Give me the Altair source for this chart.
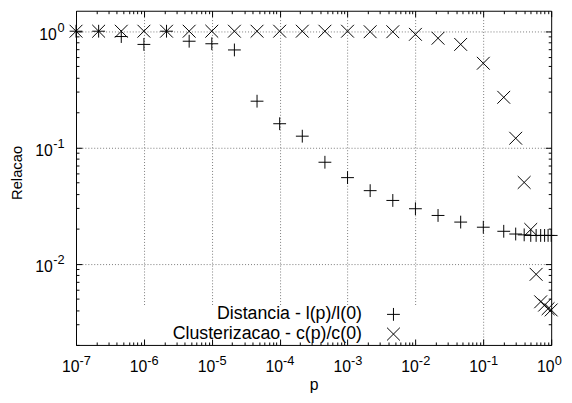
import altair as alt
import pandas as pd

# ---------------- data ----------------
P = [1e-7, 2.154e-7, 4.642e-7, 1e-6, 2.154e-6, 4.642e-6, 1e-5, 2.154e-5, 4.642e-5,
     1e-4, 2.154e-4, 4.642e-4, 1e-3, 2.154e-3, 4.642e-3, 1e-2, 2.154e-2, 4.642e-2,
     1e-1, 0.2, 0.3, 0.4, 0.5, 0.6, 0.7, 0.8, 0.9, 1.0]
DIST = [1.0, 1.0, 0.90, 0.77, 1.0, 0.82, 0.78, 0.69, 0.25, 0.16, 0.125, 0.0746,
        0.055, 0.0425, 0.035, 0.0297, 0.026, 0.0228, 0.0206, 0.019, 0.018, 0.0177,
        0.0175, 0.0175, 0.0175, 0.0175, 0.0175, 0.0175]
CLUS = [1.0, 1.0, 1.0, 1.0, 1.0, 1.0, 1.0, 1.0, 1.0, 1.0, 1.0, 1.0, 1.0, 0.99,
        0.99, 0.94, 0.87, 0.77, 0.53, 0.27, 0.12, 0.05, 0.0197, 0.0081, 0.0047,
        0.0044, 0.0041, 0.0040]
SERIES = ["Distancia - l(p)/l(0)", "Clusterizacao - c(p)/c(0)"]

X_MAJOR = [1e-7, 1e-6, 1e-5, 1e-4, 1e-3, 1e-2, 1e-1, 1.0]
X_GRID = [1e-6, 1e-5, 1e-4, 1e-3, 1e-2, 1e-1]
Y_MAJOR = [0.01, 0.1, 1.0]
MINOR = [2, 3, 4, 5, 6, 7, 8, 9]
X_TICKS = X_MAJOR + [m * d for d in X_MAJOR[:-1] for m in MINOR]
Y_TICKS = Y_MAJOR + [m * d for d in [0.001, 0.01, 0.1] for m in MINOR if m * d >= 0.002]

X_DOMAIN = [1e-7, 1.0]
Y_DOMAIN = [0.002, 1.5]

df = pd.DataFrame({
    "p": P + P,
    "valor": DIST + CLUS,
    "serie": [SERIES[0]] * len(P) + [SERIES[1]] * len(P),
})

# ---------------- styling ----------------
W, H = 482, 339
FONT = "Liberation Sans"
PLUS = "M-1,0H1M0,-1V1"
XMARK = "M-1,-1L1,1M1,-1L-1,1"
DECADE = "abs(log(datum.value)/LN10 - round(log(datum.value)/LN10)) < 0.001"
TICK_LEN = {"condition": {"test": DECADE, "value": 6}, "value": 3}
EXP = "'' + round(log(datum.value)/LN10)"

xs = alt.Scale(type="log", domain=X_DOMAIN, nice=False)
ys = alt.Scale(type="log", domain=Y_DOMAIN, nice=False)

common = dict(labelFlush=False, labelOverlap=False, labelColor="black",
              labelFont=FONT, titleFont=FONT, titleColor="black",
              titleFontWeight="normal")

base = alt.Chart(df)

# layer 1: data points, base "10" labels, titles, legend
points = base.mark_point(filled=False, color="black", opacity=1, strokeWidth=1,
                         size=169).encode(
    x=alt.X("p:Q", scale=xs, axis=alt.Axis(
        orient="bottom", values=X_MAJOR, labelExpr="'10'", ticks=False, tickSize=0,
        domain=False, grid=False, labelFontSize=16, labelAlign="right",
        labelBaseline="alphabetic", labelPadding=27, labelOffset=3,
        title="p", titleFontSize=16, titleBaseline="alphabetic", titleY=45,
        zindex=0, **common)),
    y=alt.Y("valor:Q", scale=ys, axis=alt.Axis(
        orient="left", values=Y_MAJOR, labelExpr="'10'", ticks=False, tickSize=0,
        domain=False, grid=False, labelFontSize=16, labelAlign="right",
        labelBaseline="alphabetic",
        labelPadding={"condition": {"test": "datum.value >= 1", "value": 20}, "value": 24},
        labelOffset=8, title="Relacao", titleFontSize=15, titleAngle=270,
        titleAlign="center", titleBaseline="middle", titleX=-60, titleY=164,
        zindex=0, **common)),
    shape=alt.Shape("serie:N", scale=alt.Scale(domain=SERIES, range=[PLUS, XMARK]),
                    legend=alt.Legend(
                        orient="none", legendX=64, legendY=299, direction="vertical",
                        title="MM", titleOrient="right", titleOpacity=0,
                        titleFontSize=13, titlePadding=0,
                        padding=0, rowPadding=2, labelFont=FONT, labelFontSize=18,
                        labelColor="black", labelAlign="right",
                        labelOffset={"expr": "-41"},
                        symbolOffset=249, labelLimit=400, symbolSize=169,
                        symbolStrokeWidth=1, symbolStrokeColor="black",
                        fillColor="white", zindex=1)),
)

# layer 2: exponents of the tick labels
exps = base.mark_point(opacity=0, size=1).encode(
    x=alt.X("p:Q", scale=xs, axis=alt.Axis(
        orient="bottom", values=X_MAJOR, labelExpr=EXP, ticks=False, tickSize=0,
        domain=False, grid=False, labelFontSize=13, labelAlign="left",
        labelBaseline="alphabetic", labelPadding=20, labelOffset=3, title=None,
        zindex=0, **common)),
    y=alt.Y("valor:Q", scale=ys, axis=alt.Axis(
        orient="left", values=Y_MAJOR, labelExpr=EXP, ticks=False, tickSize=0,
        domain=False, grid=False, labelFontSize=13, labelAlign="right",
        labelBaseline="alphabetic", labelPadding=12, labelOffset=0, title=None,
        zindex=0, **common)),
)

# layer 3: dotted grid
grid_kw = dict(grid=True, gridDash=[1, 2], gridColor="#7a7a7a", gridWidth=1,
               labels=False, ticks=False, domain=False, title=None, zindex=0)
grid = base.mark_point(opacity=0, size=1).encode(
    x=alt.X("p:Q", scale=xs, axis=alt.Axis(orient="bottom", values=X_GRID, **grid_kw)),
    y=alt.Y("valor:Q", scale=ys, axis=alt.Axis(orient="left", values=Y_MAJOR, **grid_kw)),
)

# layers 4-5: border with inward ticks (major and minor) on all four sides
tick_kw = dict(labels=False, grid=False, domain=True, domainColor="black",
               domainWidth=1, ticks=True, tickColor="black", tickWidth=1,
               tickSize=TICK_LEN, title=None, zindex=2)
frame1 = base.mark_point(opacity=0, size=1).encode(
    x=alt.X("p:Q", scale=xs, axis=alt.Axis(orient="top", offset=-H, values=X_TICKS, **tick_kw)),
    y=alt.Y("valor:Q", scale=ys, axis=alt.Axis(orient="right", offset=-W, values=Y_TICKS, **tick_kw)),
)
frame2 = base.mark_point(opacity=0, size=1).encode(
    x=alt.X("p:Q", scale=xs, axis=alt.Axis(orient="bottom", offset=-H, values=X_TICKS, **tick_kw)),
    y=alt.Y("valor:Q", scale=ys, axis=alt.Axis(orient="left", offset=-W, values=Y_TICKS, **tick_kw)),
)

chart = alt.layer(grid, exps, points, frame1, frame2).resolve_axis(
    x="independent", y="independent"
).properties(
    width=W, height=H,
    autosize=alt.AutoSizeParams(type="none"),
    padding={"left": 69, "right": 13, "top": 0, "bottom": 48},
    background="white",
).configure_view(strokeWidth=0)

chart.save("out.html", embed_options={"renderer": "svg", "actions": False})
